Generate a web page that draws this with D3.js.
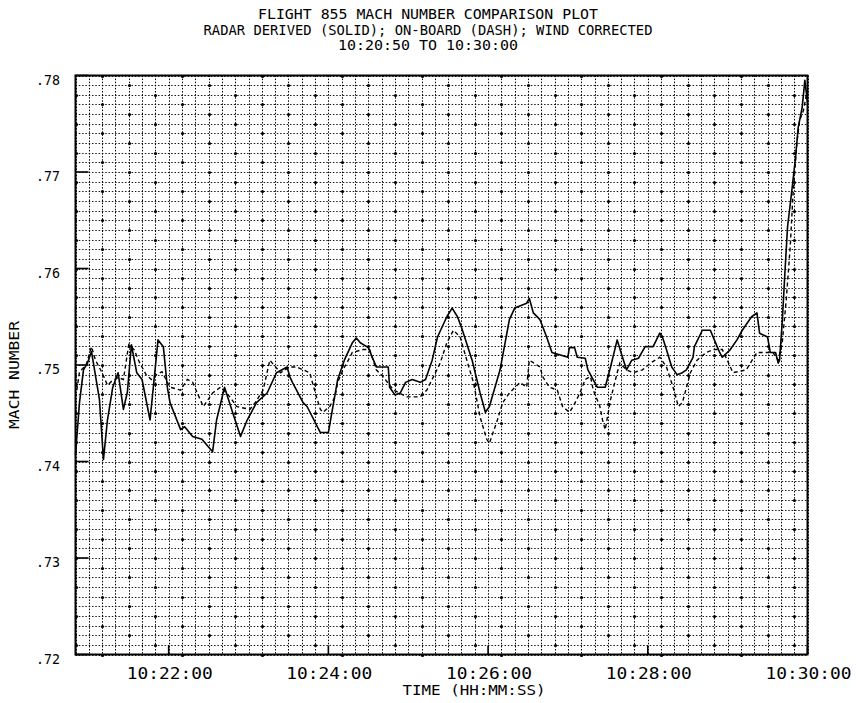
<!DOCTYPE html>
<html><head><meta charset="utf-8">
<script src="https://cdn.jsdelivr.net/npm/d3@7"></script>
<style>body{margin:0;background:#fff}svg{display:block}</style>
</head><body>
<script>
// ---------- data ----------
const titleLines = ["FLIGHT 855 MACH NUMBER COMPARISON PLOT",
  "RADAR DERIVED (SOLID); ON-BOARD (DASH); WIND CORRECTED",
  "10:20:50 TO 10:30:00"];
const xTickValues = ["10:22:00","10:24:00","10:26:00","10:28:00","10:30:00"];
const yTickValues = [0.72,0.73,0.74,0.75,0.76,0.77,0.78];
const yTickLabels = [".72",".73",".74",".75",".76",".77",".78"];
const xTitle = "TIME (HH:MM:SS)";
const yTitle = "MACH NUMBER";

const radarTimes = ["10:20:50","10:20:53","10:20:56","10:20:59","10:21:02","10:21:08","10:21:11","10:21:14","10:21:18","10:21:22",
"10:21:26","10:21:29","10:21:32","10:21:36","10:21:40","10:21:46","10:21:50","10:21:52","10:21:56","10:21:59",
"10:22:01","10:22:09","10:22:12","10:22:18","10:22:25","10:22:33","10:22:36","10:22:42","10:22:48","10:22:54",
"10:22:59","10:23:06","10:23:14","10:23:21","10:23:29","10:23:31","10:23:33","10:23:41","10:23:44","10:23:54",
"10:24:00","10:24:07","10:24:12","10:24:18","10:24:21","10:24:24","10:24:30","10:24:33","10:24:36","10:24:45",
"10:24:46","10:24:50","10:24:54","10:24:58","10:25:03","10:25:09","10:25:13","10:25:18","10:25:22","10:25:29",
"10:25:33","10:25:37","10:25:40","10:25:48","10:25:54","10:25:58","10:26:01","10:26:09","10:26:16","10:26:20",
"10:26:29","10:26:31","10:26:34","10:26:39","10:26:44","10:26:48","10:27:00","10:27:01","10:27:05","10:27:07",
"10:27:13","10:27:15","10:27:22","10:27:28","10:27:32","10:27:37","10:27:41","10:27:44","10:27:48","10:27:53",
"10:27:58","10:28:04","10:28:09","10:28:11","10:28:14","10:28:18","10:28:22","10:28:26","10:28:29","10:28:34",
"10:28:35","10:28:41","10:28:47","10:28:50","10:28:54","10:28:56","10:29:02","10:29:07","10:29:11","10:29:15",
"10:29:18","10:29:22","10:29:24","10:29:30","10:29:32","10:29:36","10:29:38","10:29:39","10:29:41","10:29:43",
"10:29:45","10:29:48","10:29:51","10:29:53","10:29:56","10:29:58","10:30:00"];
const radarMach = [.7407,.7461,.7495,.7502,.7514,.7464,.7402,.7443,.7477,.7492,
.7454,.7472,.7521,.7492,.7485,.7443,.7498,.7526,.7519,.7477,
.7461,.7433,.7436,.7426,.7423,.7410,.7443,.7477,.7451,.7426,
.7443,.7461,.7471,.7492,.7498,.7488,.7482,.7461,.7457,.7430,
.7430,.7485,.7505,.7523,.7528,.7523,.7518,.7508,.7498,.7498,
.7477,.7469,.7471,.7482,.7485,.7482,.7485,.7505,.7529,.7550,
.7559,.7550,.7539,.7505,.7471,.7451,.7457,.7495,.7547,.7559,
.7564,.7569,.7554,.7547,.7529,.7513,.7508,.7518,.7518,.7508,
.7507,.7495,.7477,.7477,.7498,.7526,.7508,.7495,.7505,.7507,
.7519,.7519,.7533,.7529,.7516,.7498,.7490,.7492,.7495,.7508,
.7519,.7536,.7536,.7526,.7513,.7508,.7516,.7526,.7536,.7544,
.7550,.7554,.7533,.7529,.7513,.7513,.7502,.7505,.7544,.7595,
.7643,.7678,.7715,.7746,.7767,.7795,.7772];

const onboardTimes = ["10:20:51","10:20:53","10:20:58","10:21:02","10:21:05","10:21:10","10:21:14","10:21:17","10:21:22","10:21:26",
"10:21:30","10:21:34","10:21:38","10:21:43","10:21:47","10:21:51","10:21:55","10:22:01","10:22:09","10:22:14",
"10:22:18","10:22:26","10:22:33","10:22:39","10:22:46","10:22:51","10:23:01","10:23:05","10:23:11","10:23:16",
"10:23:24","10:23:31","10:23:36","10:23:41","10:23:46","10:23:48","10:23:51","10:23:54","10:23:56","10:24:01",
"10:24:05","10:24:07","10:24:11","10:24:15","10:24:18","10:24:26","10:24:31","10:24:36","10:24:41","10:24:49",
"10:24:59","10:25:09","10:25:14","10:25:19","10:25:24","10:25:29","10:25:34","10:25:39","10:25:44","10:25:49",
"10:25:54","10:25:59","10:26:01","10:26:07","10:26:11","10:26:16","10:26:24","10:26:29","10:26:31","10:26:39",
"10:26:41","10:26:46","10:26:52","10:26:56","10:27:01","10:27:04","10:27:09","10:27:13","10:27:17","10:27:19",
"10:27:24","10:27:26","10:27:28","10:27:32","10:27:37","10:27:39","10:27:44","10:27:49","10:27:56","10:28:02",
"10:28:09","10:28:14","10:28:19","10:28:23","10:28:26","10:28:32","10:28:37","10:28:44","10:28:49","10:28:56",
"10:29:04","10:29:14","10:29:22","10:29:29","10:29:34","10:29:38","10:29:41","10:29:44","10:29:47","10:29:49",
"10:29:52","10:29:54","10:29:57","10:29:59"];
const onboardMach = [.7474,.7493,.7500,.7519,.7505,.7492,.7479,.7483,.7487,.7485,
.7521,.7516,.7503,.7490,.7485,.7490,.7493,.7477,.7474,.7485,
.7482,.7457,.7471,.7477,.7467,.7457,.7454,.7461,.7474,.7505,
.7492,.7498,.7498,.7495,.7492,.7482,.7467,.7454,.7451,.7457,
.7467,.7482,.7495,.7505,.7513,.7516,.7516,.7495,.7488,.7474,
.7467,.7467,.7474,.7488,.7502,.7523,.7536,.7529,.7505,.7482,
.7446,.7423,.7419,.7443,.7461,.7471,.7482,.7477,.7505,.7498,
.7488,.7477,.7474,.7457,.7451,.7457,.7471,.7485,.7488,.7474,
.7457,.7443,.7433,.7464,.7492,.7502,.7495,.7492,.7495,.7502,
.7508,.7498,.7477,.7457,.7461,.7492,.7505,.7513,.7516,.7516,
.7492,.7495,.7513,.7513,.7513,.7505,.7523,.7567,.7622,.7674,
.7730,.7753,.7764,.7779];

// ---------- chart ----------
const W = 856, H = 703;
const parse = d3.timeParse("%H:%M:%S");
const x = d3.scaleTime().domain([parse("10:20:50"), parse("10:30:00")]).range([75.5, 807.5]);
const y = d3.scaleLinear().domain([0.72, 0.78]).range([654.5, 75.5]);
const FONT = "'DejaVu Sans Mono', 'Liberation Mono', monospace";

const svg = d3.select("body").append("svg").attr("width", W).attr("height", H)
  .style("background", "#fff");

// grid
const vTimes = d3.timeSecond.every(10).range(x.domain()[0], d3.timeSecond.offset(x.domain()[1], 1));
const hVals = d3.range(0, 61).map(i => +(0.72 + i * 0.001).toFixed(3));
const grid = svg.append("g").attr("stroke", "#000").attr("stroke-width", 1);
grid.selectAll("line.v").data(vTimes).join("line").attr("class", "v")
  .attr("stroke-dasharray", "1.5,1.6")
  .attr("x1", d => Math.round(x(d)) + 0.5).attr("x2", d => Math.round(x(d)) + 0.5)
  .attr("y1", y(0.78)).attr("y2", y(0.72));
grid.selectAll("line.h").data(hVals).join("line").attr("class", "h")
  .attr("stroke-dasharray", "1.5,1.8").attr("stroke-opacity", 0.9)
  .attr("y1", d => Math.round(y(d)) + 0.5).attr("y2", d => Math.round(y(d)) + 0.5)
  .attr("x1", x.range()[0]).attr("x2", x.range()[1]);

// intersection dots
const dots = [];
vTimes.forEach((t, c) => {
  hVals.forEach((v, r) => {
    if (c % 2 === 0 && ((r + c / 2) % 3 === 1)) dots.push([t, v]);
  });
});
svg.append("g").selectAll("circle").data(dots).join("circle")
  .attr("cx", d => Math.round(x(d[0])) + 0.5).attr("cy", d => Math.round(y(d[1])) + 0.5)
  .attr("r", 1.6).attr("fill", "#000");

// frame
svg.append("rect").attr("x", x.range()[0]).attr("y", y(0.78))
  .attr("width", x.range()[1] - x.range()[0]).attr("height", y(0.72) - y(0.78))
  .attr("fill", "none").attr("stroke", "#000").attr("stroke-width", 2);

// ticks (inward)
svg.append("g").selectAll("line").data(yTickValues).join("line")
  .attr("x1", x.range()[0]).attr("x2", x.range()[0] + 13)
  .attr("y1", d => y(d)).attr("y2", d => y(d))
  .attr("stroke", "#000").attr("stroke-width", 1.6);
svg.append("g").selectAll("line").data(xTickValues).join("line")
  .attr("x1", d => x(parse(d))).attr("x2", d => x(parse(d)))
  .attr("y1", y(0.72)).attr("y2", y(0.72) - 9)
  .attr("stroke", "#000").attr("stroke-width", 1.6);

// tick labels
svg.append("g").selectAll("text").data(yTickValues).join("text")
  .attr("x", 60).attr("y", d => y(d) + 9)
  .attr("text-anchor", "end").attr("font-family", FONT).attr("font-size", 14)
  .attr("textLength", 24).attr("lengthAdjust", "spacingAndGlyphs")
  .text((d, i) => yTickLabels[i]);
svg.append("g").selectAll("text").data(xTickValues).join("text")
  .attr("x", d => x(parse(d)) + 1).attr("y", 679)
  .attr("text-anchor", "middle").attr("font-family", FONT).attr("font-size", 15)
  .attr("textLength", 86).attr("lengthAdjust", "spacingAndGlyphs")
  .text(d => d);

// titles
const titleW = [340, 449, 180];
svg.append("g").selectAll("text").data(titleLines).join("text")
  .attr("x", 428).attr("y", (d, i) => 19 + i * 15.5)
  .attr("text-anchor", "middle").attr("font-family", FONT).attr("font-size", 14)
  .attr("textLength", (d, i) => titleW[i]).attr("lengthAdjust", "spacingAndGlyphs")
  .text(d => d);
svg.append("text").attr("x", 474).attr("y", 695)
  .attr("text-anchor", "middle").attr("font-family", FONT).attr("font-size", 14)
  .attr("textLength", 143).attr("lengthAdjust", "spacingAndGlyphs").text(xTitle);
svg.append("text").attr("transform", "translate(19,375) rotate(-90)")
  .attr("text-anchor", "middle").attr("font-family", FONT).attr("font-size", 14)
  .attr("textLength", 108).attr("lengthAdjust", "spacingAndGlyphs").text(yTitle);

// series
const radar = radarTimes.map((t, i) => [parse(t), radarMach[i]]);
const onboard = onboardTimes.map((t, i) => [parse(t), onboardMach[i]]);
const line = d3.line().x(d => x(d[0])).y(d => y(d[1]));
svg.append("path").datum(onboard).attr("d", line)
  .attr("fill", "none").attr("stroke", "#000").attr("stroke-width", 1.4)
  .attr("stroke-dasharray", "4,3");
svg.append("path").datum(radar).attr("d", line)
  .attr("fill", "none").attr("stroke", "#000").attr("stroke-width", 1.6)
  .attr("stroke-linejoin", "round");
</script>
</body></html>
